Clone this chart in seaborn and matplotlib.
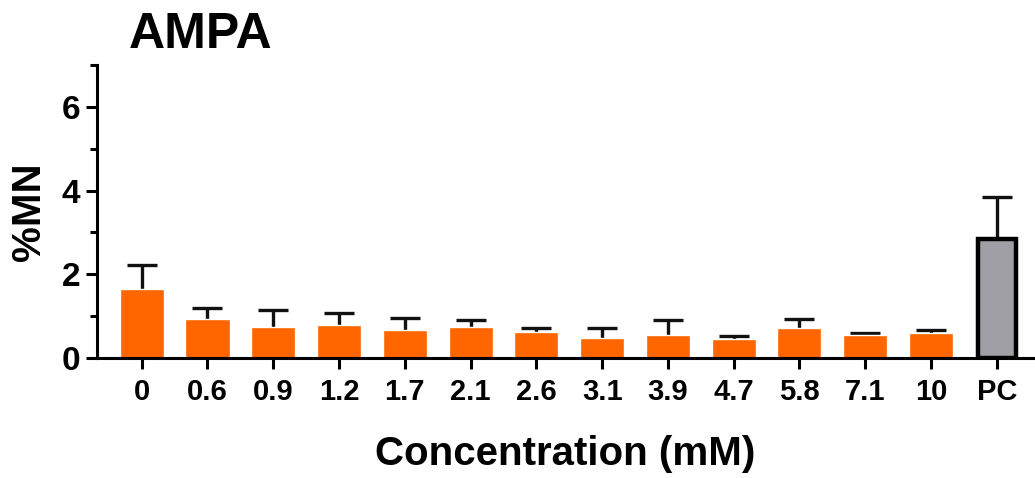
import matplotlib
matplotlib.use("Agg")
import matplotlib.pyplot as plt
from matplotlib.ticker import MultipleLocator
import seaborn as sns

# Micronucleus frequency per AMPA concentration, plus positive control
categories = ["0", "0.6", "0.9", "1.2", "1.7", "2.1", "2.6", "3.1", "3.9",
              "4.7", "5.8", "7.1", "10", "PC"]
mean_mn = [1.66, 0.93, 0.75, 0.79, 0.68, 0.74, 0.62, 0.48, 0.56,
           0.47, 0.72, 0.56, 0.60, 2.85]
sd_mn = [0.57, 0.26, 0.41, 0.28, 0.29, 0.17, 0.10, 0.24, 0.36,
         0.06, 0.21, 0.04, 0.07, 0.99]

orange = "#FF6600"
grey = "#A09FA6"

sns.set_theme(style="ticks")
plt.rcParams["font.family"] = ["Liberation Sans", "DejaVu Sans"]
plt.rcParams["font.weight"] = "bold"
plt.rcParams["text.color"] = "black"
plt.rcParams["xtick.color"] = "black"
plt.rcParams["ytick.color"] = "black"
plt.rcParams["axes.labelcolor"] = "black"

fig = plt.figure(figsize=(10.35, 4.78), dpi=100)
ax = fig.add_axes([0.0937, 0.2504, 0.9043, 0.6142])

treated = categories[:-1]
sns.barplot(x=treated, y=mean_mn[:-1], order=categories, color=orange,
            saturation=1, width=0.67, errorbar=None, ax=ax, zorder=2)
sns.barplot(x=[categories[-1]], y=[mean_mn[-1]], order=categories, color=grey,
            saturation=1, width=0.58, errorbar=None, ax=ax, zorder=2,
            edgecolor="black", linewidth=3.2)

# Upper-only SD error bars
pos = list(range(len(categories)))
_, caps, _ = ax.errorbar(pos, mean_mn, yerr=[[0] * len(sd_mn), sd_mn], fmt="none",
                         ecolor="#111111", elinewidth=2.4, capsize=11,
                         capthick=2.4, zorder=1)
caps[0].set_visible(False)

ax.set_xlim(-0.68, 13.55)
ax.set_ylim(0, 7)
ax.yaxis.set_major_locator(MultipleLocator(2))
ax.yaxis.set_minor_locator(MultipleLocator(1))

for side in ("top", "right"):
    ax.spines[side].set_visible(False)
for side in ("left", "bottom"):
    ax.spines[side].set_linewidth(2.2)
    ax.spines[side].set_color("black")

ax.tick_params(axis="both", which="major", length=8, width=2.2, color="black",
               labelcolor="black", pad=5)
ax.tick_params(axis="x", which="major", labelsize=21, pad=6)
ax.tick_params(axis="y", which="major", labelsize=24, pad=4)
ax.tick_params(axis="y", which="minor", length=5, width=2.2, color="black")
for lbl in ax.get_xticklabels() + ax.get_yticklabels():
    lbl.set_fontweight("bold")

ax.set_xlabel("Concentration (mM)", fontsize=29, fontweight="bold", color="black")
ax.xaxis.set_label_coords(0.5, -0.262)
ax.set_ylabel("%MN", fontsize=29, fontweight="bold", color="black")
ax.yaxis.set_label_coords(-0.052, 0.5)
ax.set_title("AMPA", fontsize=36, fontweight="bold", loc="left", x=0.034, y=1.03,
             color="black")

fig.savefig("out.png", dpi=100)
